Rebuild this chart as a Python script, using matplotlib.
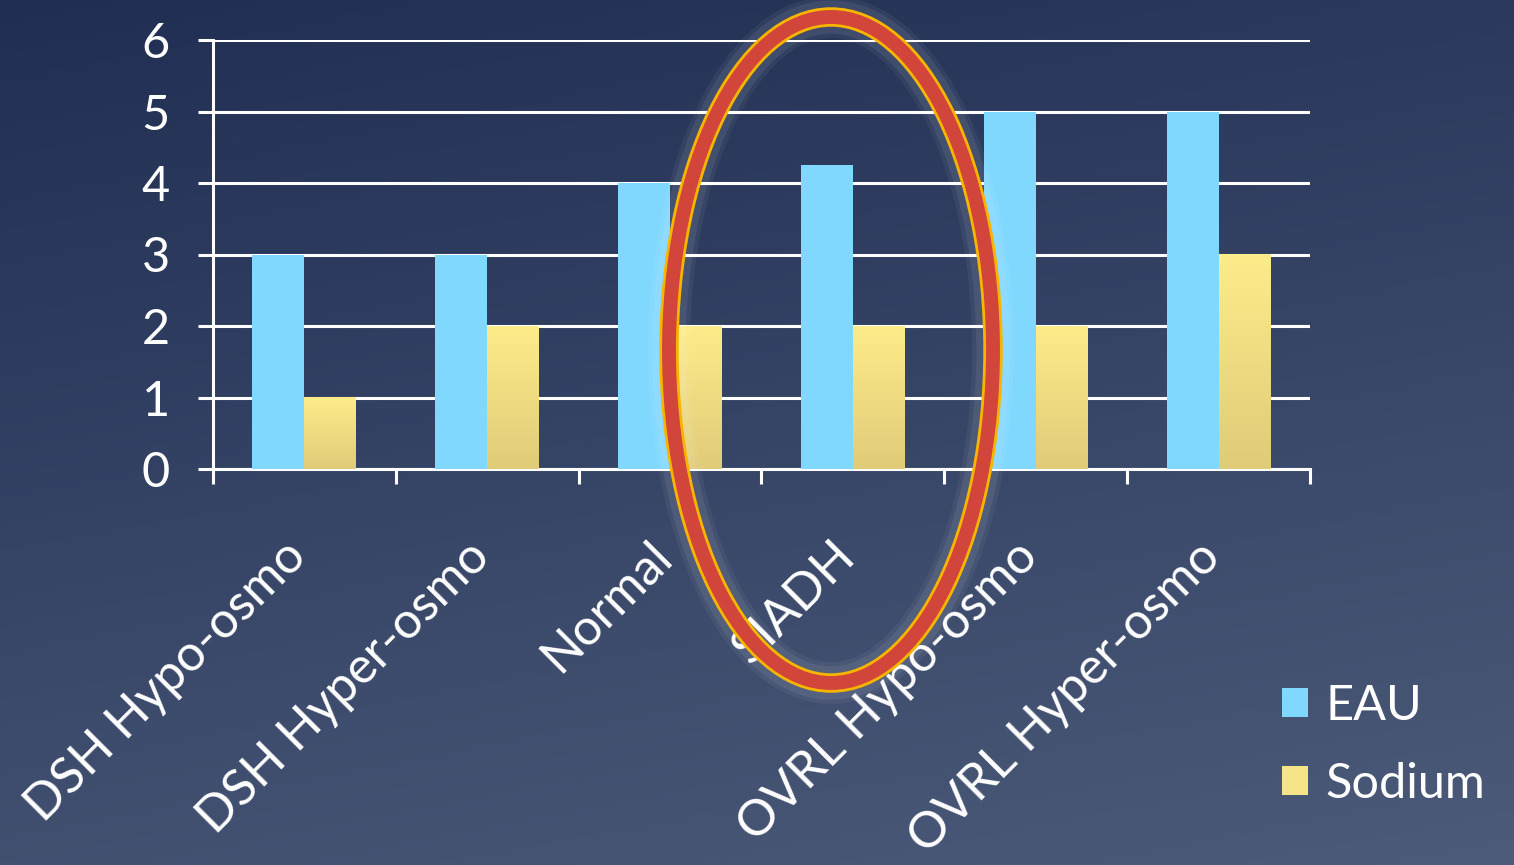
import numpy as np
import matplotlib
matplotlib.use("Agg")
import matplotlib.pyplot as plt
from matplotlib.patches import Ellipse

# ------------------------------------------------------------
# DATA
# ------------------------------------------------------------
categories = ["DSH Hypo-osmo", "DSH Hyper-osmo", "Normal", "SIADH",
              "OVRL Hypo-osmo", "OVRL Hyper-osmo"]
eau = [3, 3, 4, 4.25, 5, 5]
sodium = [1, 2, 2, 2, 2, 3]
y_ticks = [0, 1, 2, 3, 4, 5, 6]

plt.rcParams["font.family"] = ["Lato", "DejaVu Sans"]

W, H = 1514, 865
fig = plt.figure(figsize=(W / 100, H / 100), dpi=100)

# ------------------------------------------------------------
# BACKGROUND GRADIENT
# ------------------------------------------------------------
bg = fig.add_axes([0, 0, 1, 1], zorder=-10)
yy, xx = np.mgrid[0:1:200j, 0:1:200j]
t = np.clip(0.75 * yy + 0.25 * xx, 0, 1)
top = np.array([0x1f, 0x2e, 0x52]) / 255
bottom = np.array([0x4d, 0x5b, 0x7a]) / 255
img = top[None, None, :] * (1 - t[..., None]) + bottom[None, None, :] * t[..., None]
bg.imshow(img, aspect="auto", extent=[0, 1, 0, 1], origin="upper")
bg.axis("off")

# ------------------------------------------------------------
# BARS
# ------------------------------------------------------------
ax = fig.add_axes([213 / W, 1 - 469 / H, (1310 - 213) / W, (469 - 40) / H])
ax.set_facecolor("none")
x = np.arange(len(categories))
bw = 0.284

ax.bar(x - bw / 2, eau, bw, color="#80d8ff", zorder=3, label="EAU")
ax.bar(x + bw / 2, sodium, bw, color="#f6e488", zorder=3, label="Sodium")

# yellow gradient on sodium bars
grad = np.linspace(0, 1, 100)[:, None]
ycol_top = np.array([0xfd, 0xec, 0x8a]) / 255
ycol_bot = np.array([0xe0, 0xcb, 0x78]) / 255
ygrad = ycol_top[None, None, :] * (1 - grad[..., None]) + ycol_bot[None, None, :] * grad[..., None]
for xi, v in zip(x, sodium):
    ax.imshow(ygrad, aspect="auto", extent=[xi, xi + bw, 0, v], zorder=4)

ax.set_xlim(-0.5, len(categories) - 0.5)
ax.set_ylim(0, 6)
ax.set_yticks(y_ticks)
ax.grid(axis="y", color="white", lw=2.2, zorder=1)
ax.set_axisbelow(True)

for s in ["top", "right"]:
    ax.spines[s].set_visible(False)
ax.spines["left"].set_color("white")
ax.spines["left"].set_linewidth(2.2)
ax.spines["bottom"].set_color("white")
ax.spines["bottom"].set_linewidth(2.2)

ax.tick_params(axis="y", colors="white", length=11, width=2.2, labelsize=35, pad=20)
ax.set_xticks(x + 0.06)
ax.set_xticklabels(categories, rotation=45, ha="right", rotation_mode="default",
                   color="white", fontsize=36)
ax.tick_params(axis="x", length=0, pad=46)
ax.set_xticks(np.arange(-0.5, len(categories)), minor=True)
ax.tick_params(axis="x", which="minor", length=11, width=2.2, colors="white")

# ------------------------------------------------------------
# LEGEND
# ------------------------------------------------------------
leg = fig.legend(loc="upper left", bbox_to_anchor=(1238 / W, 1 - 640 / H),
                 frameon=False, fontsize=35, labelcolor="white",
                 handlelength=0.55, handleheight=0.55, handletextpad=0.35,
                 labelspacing=0.7)

# ------------------------------------------------------------
# ELLIPSE HIGHLIGHT
# ------------------------------------------------------------
cx, cy = 831 / W, 1 - 350 / H
ew, eh = 324 / W, 666 / H
for lw, a in [(30, 0.05), (24, 0.07)]:
    fig.add_artist(Ellipse((cx, cy), ew, eh, transform=fig.transFigure,
                           fill=False, ec="white", lw=lw, alpha=a, zorder=20))
fig.add_artist(Ellipse((cx, cy), ew, eh, transform=fig.transFigure,
                       fill=False, ec="#f7b500", lw=14, zorder=21))
fig.add_artist(Ellipse((cx, cy), ew, eh, transform=fig.transFigure,
                       fill=False, ec="#d2453b", lw=10, zorder=22))

fig.savefig("out.png", dpi=100)
